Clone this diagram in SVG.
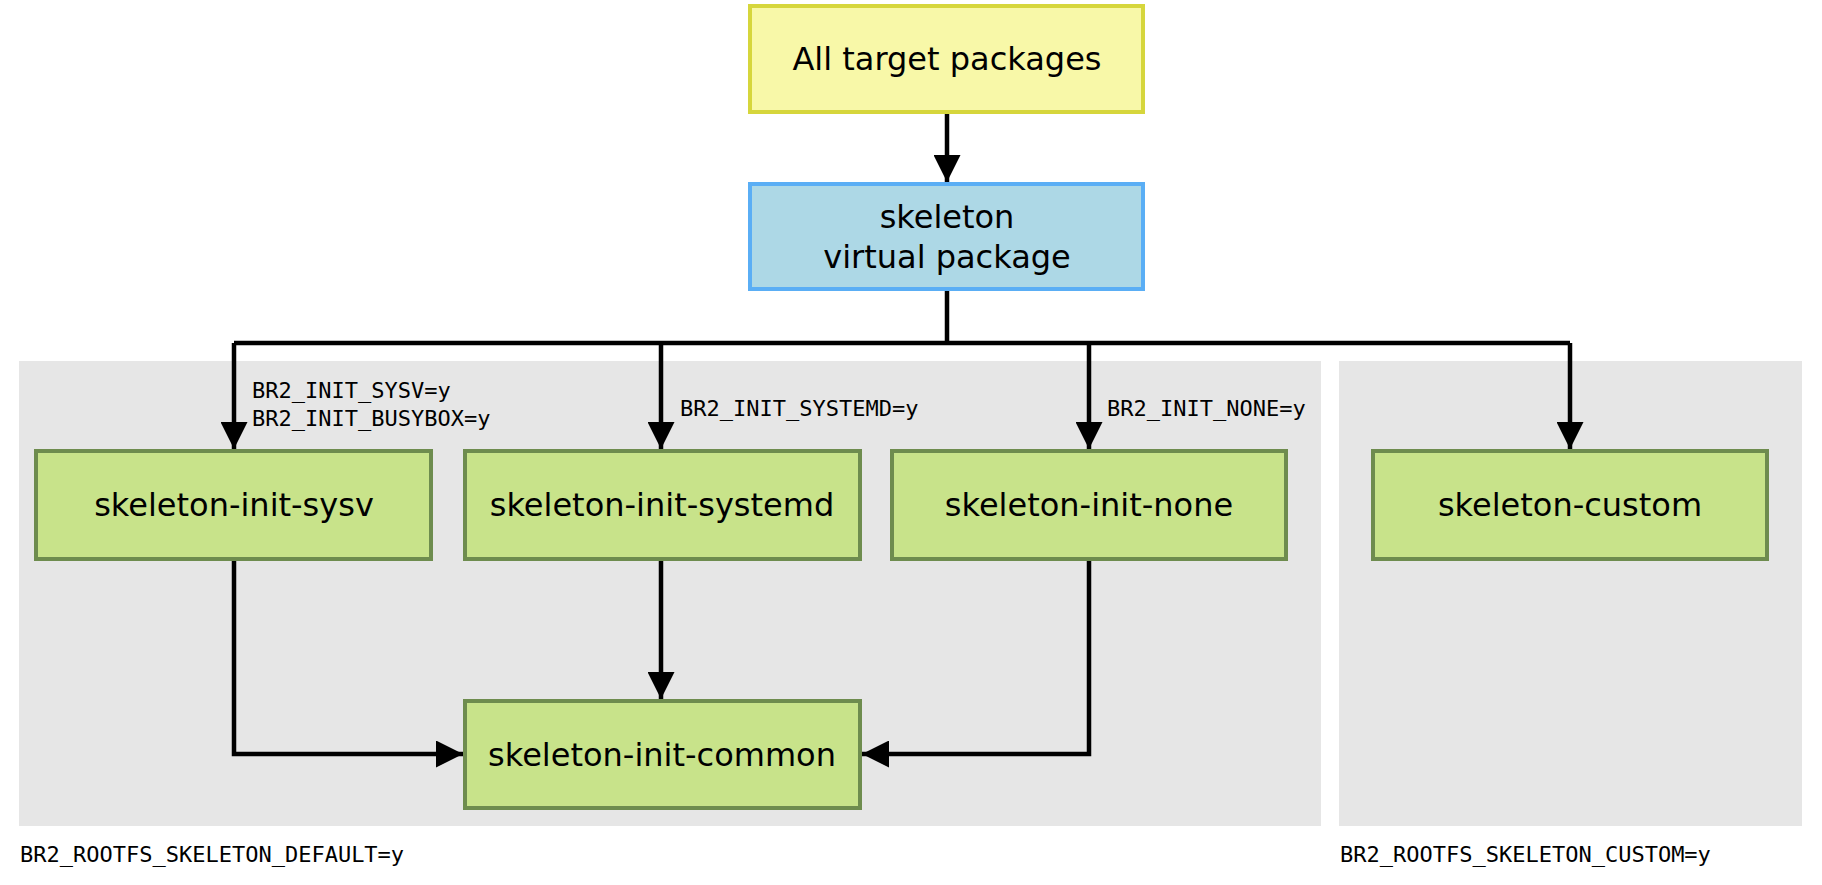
<svg xmlns="http://www.w3.org/2000/svg" width="1822" height="885" viewBox="0 0 1822 885">
<style>
.box{stroke-width:4}
.g{fill:#c8e38a;stroke:#6e8c4e}
.t{font-family:"DejaVu Sans",sans-serif;font-size:32px;fill:#000;text-anchor:middle}
.m{font-family:"DejaVu Sans Mono",monospace;font-size:22px;fill:#000}
.c{fill:none;stroke:#000;stroke-width:4.5}
</style>
<defs><marker id="a" viewBox="0 0 10 10" refX="10" refY="5" markerWidth="6" markerHeight="6" orient="auto" markerUnits="strokeWidth"><path d="M0,0L10,5L0,10z" fill="#000"/></marker></defs>
<rect width="1822" height="885" fill="#fff"/>
<rect x="19" y="361" width="1302" height="465" fill="#e6e6e6"/>
<rect x="1339" y="361" width="463" height="465" fill="#e6e6e6"/>
<g id="connectors">
<path class="c" d="M947,112V182" marker-end="url(#a)"/>
<path class="c" d="M947,289V343M234,343H1570"/>
<path class="c" d="M234,343V449" marker-end="url(#a)"/>
<path class="c" d="M661,343V449" marker-end="url(#a)"/>
<path class="c" d="M1089,343V449" marker-end="url(#a)"/>
<path class="c" d="M1570,343V449" marker-end="url(#a)"/>
<path class="c" d="M661,559V699" marker-end="url(#a)"/>
<path class="c" d="M234,559V754H463" marker-end="url(#a)"/>
<path class="c" d="M1089,559V754H862" marker-end="url(#a)"/>
<text class="m" x="252" y="398">BR2_INIT_SYSV=y</text>
<text class="m" x="252" y="426">BR2_INIT_BUSYBOX=y</text>
<text class="m" x="680" y="416">BR2_INIT_SYSTEMD=y</text>
<text class="m" x="1107" y="416">BR2_INIT_NONE=y</text>
</g>
<g id="all"><rect class="box" x="750" y="6" width="393" height="106" fill="#f8f8a8" stroke="#d6d63c"/><text class="t" x="947" y="70">All target packages</text></g>
<g id="skeleton"><rect class="box" x="750" y="184" width="393" height="105" fill="#add8e6" stroke="#5aaef5"/><text class="t" x="947" y="228">skeleton</text><text class="t" x="947" y="268">virtual package</text></g>
<g id="sysv"><rect class="box g" x="36" y="451" width="395" height="108"/><text class="t" x="234" y="516">skeleton-init-sysv</text></g>
<g id="systemd"><rect class="box g" x="465" y="451" width="395" height="108"/><text class="t" x="662" y="516">skeleton-init-systemd</text></g>
<g id="none"><rect class="box g" x="892" y="451" width="394" height="108"/><text class="t" x="1089" y="516">skeleton-init-none</text></g>
<g id="custom"><rect class="box g" x="1373" y="451" width="394" height="108"/><text class="t" x="1570" y="516">skeleton-custom</text></g>
<g id="common"><rect class="box g" x="465" y="701" width="395" height="107"/><text class="t" x="662" y="766">skeleton-init-common</text></g>
<text class="m" x="20" y="862">BR2_ROOTFS_SKELETON_DEFAULT=y</text>
<text class="m" x="1340" y="862">BR2_ROOTFS_SKELETON_CUSTOM=y</text>
</svg>
